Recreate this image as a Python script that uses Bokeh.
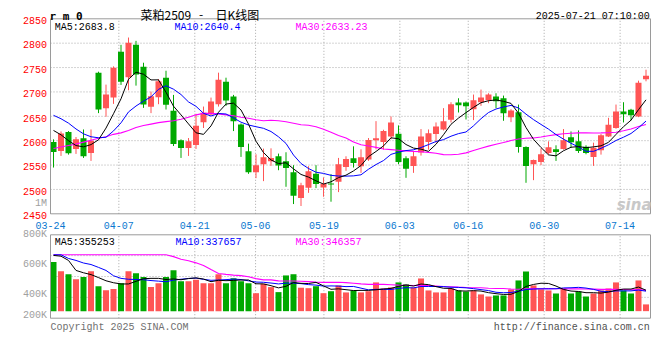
import numpy as np
from bokeh.plotting import figure
from bokeh.models import Range1d, Label
from bokeh.embed import file_html
from bokeh.resources import INLINE

# ---------------- data ----------------
tick_idx = [0, 9, 19, 27, 36, 46, 55, 65, 75]
tick_labels = ["03-24", "04-07", "04-21", "05-06", "05-19", "06-03", "06-16", "06-30", "07-14"]
price_ticks = [2450, 2500, 2550, 2600, 2650, 2700, 2750, 2800, 2850]
vol_ticks = [1000000, 800000, 600000, 400000, 200000]
vol_tick_labels = ["1M", "800K", "600K", "400K", "200K"]

opens = [2597.3, 2578.9, 2617.7, 2583.0, 2604.8, 2574.8, 2739.5, 2666.7, 2688.4, 2782.3,
         2730.0, 2796.6, 2751.7, 2669.4, 2689.1, 2729.2, 2661.2, 2600.7, 2585.0, 2591.1,
         2638.0, 2653.7, 2674.8, 2721.1, 2690.5, 2633.3, 2578.2, 2535.4, 2551.7, 2557.8,
         2568.0, 2557.8, 2535.4, 2482.3, 2503.4, 2532.0, 2504.0, 2512.2, 2515.6, 2546.2,
         2563.9, 2547.6, 2561.2, 2600.7, 2597.3, 2608.8, 2614.3, 2563.9, 2548.3, 2575.5,
         2597.3, 2613.6, 2623.0, 2642.9, 2678.2, 2678.2, 2664.6, 2678.9, 2683.0, 2690.5,
         2687.0, 2648.3, 2658.5, 2587.0, 2551.7, 2556.5, 2574.8, 2582.3, 2583.0, 2606.8,
         2598.6, 2587.7, 2566.7, 2580.3, 2608.8, 2625.8, 2659.9, 2663.3, 2649.7, 2725.8]
highs = [2602.7, 2619.0, 2619.7, 2607.5, 2623.0, 2623.0, 2741.5, 2715.0, 2752.4, 2796.6,
         2811.6, 2804.8, 2759.9, 2700.7, 2726.5, 2743.5, 2693.9, 2602.7, 2605.4, 2655.1,
         2670.0, 2688.4, 2739.5, 2729.2, 2693.9, 2635.4, 2593.9, 2572.1, 2583.7, 2584.3,
         2573.5, 2576.2, 2549.7, 2513.6, 2547.6, 2549.7, 2524.5, 2531.3, 2564.6, 2568.0,
         2588.4, 2582.3, 2605.4, 2640.1, 2622.4, 2649.7, 2631.3, 2568.0, 2578.9, 2623.8,
         2623.0, 2637.4, 2666.7, 2678.9, 2687.0, 2680.3, 2694.6, 2704.8, 2697.3, 2697.3,
         2692.5, 2664.6, 2674.1, 2588.4, 2561.2, 2584.3, 2598.6, 2590.5, 2623.8, 2619.0,
         2621.0, 2590.5, 2595.9, 2613.6, 2646.9, 2674.1, 2678.9, 2665.3, 2723.1, 2745.6]
lows = [2544.9, 2568.7, 2571.4, 2572.8, 2564.6, 2558.5, 2656.5, 2649.0, 2675.5, 2714.3,
        2703.4, 2712.9, 2667.3, 2656.5, 2674.8, 2663.9, 2589.0, 2564.6, 2568.7, 2583.0,
        2626.0, 2651.7, 2670.0, 2671.4, 2619.7, 2566.7, 2532.0, 2523.1, 2517.0, 2548.3,
        2539.4, 2505.4, 2470.0, 2466.0, 2493.0, 2502.7, 2485.0, 2474.8, 2494.5, 2538.1,
        2544.9, 2534.0, 2558.5, 2582.3, 2581.6, 2602.7, 2551.7, 2523.8, 2534.0, 2569.4,
        2581.6, 2595.9, 2621.0, 2637.4, 2657.8, 2643.5, 2642.2, 2671.4, 2676.9, 2666.7,
        2640.8, 2638.0, 2575.5, 2513.6, 2519.0, 2549.7, 2571.4, 2558.5, 2581.6, 2585.7,
        2574.8, 2572.1, 2548.3, 2571.4, 2607.5, 2624.5, 2637.4, 2641.5, 2648.3, 2721.8]
closes = [2576.9, 2614.9, 2574.1, 2602.7, 2568.0, 2600.0, 2663.9, 2694.6, 2749.7, 2721.1,
          2800.7, 2736.0, 2674.1, 2691.2, 2721.8, 2673.5, 2593.2, 2585.0, 2598.6, 2630.6,
          2657.1, 2680.3, 2725.2, 2682.3, 2640.1, 2587.0, 2535.4, 2549.7, 2566.0, 2564.6,
          2549.0, 2544.2, 2487.0, 2508.8, 2537.4, 2510.9, 2510.9, 2510.2, 2551.7, 2562.6,
          2554.4, 2566.0, 2601.4, 2604.8, 2619.7, 2637.4, 2556.5, 2542.2, 2568.0, 2608.8,
          2615.0, 2629.2, 2640.1, 2674.8, 2672.8, 2670.7, 2683.0, 2688.4, 2694.6, 2681.0,
          2656.5, 2661.9, 2587.0, 2548.3, 2560.5, 2572.1, 2586.4, 2576.9, 2600.7, 2596.6,
          2578.9, 2574.8, 2585.7, 2610.9, 2632.6, 2659.9, 2654.4, 2652.4, 2719.0, 2733.3]
volumes = [587000, 527000, 507000, 474000, 488000, 527000, 428000, 402000, 409000, 448000,
           527000, 514000, 488000, 422000, 448000, 488000, 534000, 461000, 461000, 471000,
           448000, 448000, 507000, 448000, 481000, 461000, 448000, 382000, 444000, 422000,
           389000, 499000, 507000, 418000, 415000, 428000, 382000, 395000, 433000, 387000,
           400000, 387000, 395000, 453000, 413000, 420000, 453000, 440000, 420000, 479000,
           400000, 387000, 387000, 413000, 400000, 393000, 400000, 374000, 360000, 367000,
           367000, 407000, 466000, 525000, 433000, 407000, 400000, 380000, 413000, 380000,
           393000, 360000, 380000, 400000, 413000, 453000, 400000, 380000, 466000, 308000]

# moving-average values at the left edge (they depend on days before the window)
ma5_head = [2621.0, 2612.0, 2600.0, 2590.0]
ma10_head = [2652.0, 2645.0, 2636.0, 2624.0, 2614.0, 2608.0, 2606.0, 2607.0, 2620.0]
ma30_head = [2584.0, 2587.0, 2590.0, 2593.0, 2597.0, 2601.0, 2605.0, 2608.0, 2613.0, 2616.0,
             2621.0, 2627.0, 2631.0, 2634.0, 2637.0, 2639.0, 2641.0, 2644.0, 2648.0, 2653.0,
             2656.0, 2656.0, 2655.0, 2653.0, 2651.0, 2648.0, 2646.0, 2643.0, 2641.0]
vma5_head = [631000, 626000, 598000, 532000]
vma10_head = [635000, 635000, 611000, 598000, 581000, 571000, 552000, 532000, 497000]
vma30_head = [635000] * 16 + [623000, 606000, 596000, 582000, 565000, 538000, 512000,
                              506000, 501000, 498000, 490000, 478000, 470000]

ma_texts = ["MA5:2683.8", "MA10:2640.4", "MA30:2633.23"]
vma_texts = ["MA5:355253", "MA10:337657", "MA30:346357"]


def moving(values, head, n):
    vals = np.asarray(values, dtype=float)
    out = list(head)
    for i in range(len(head), len(vals)):
        out.append(vals[i - n + 1:i + 1].mean())
    return out


# ---------------- layout constants (pixels) ----------------
W, H = 660, 360
PL, PR = 50, 650                 # left / right edge of both panels
P_TOP, P_BOT = 18.3, 213.3       # price panel
V_TOP, V_BOT = 234.3, 317.7      # volume panel
VOL_HI, VOL_LO, VOL_BASE = 767000, 217000, 263500

N = len(closes)
PX = (PR - PL) / N               # candle pitch
LX = (PR - PL) / (N - 1)         # date-grid pitch
pmin, pmax = price_ticks[0], price_ticks[-1]
ps = (P_BOT - P_TOP) / (pmax - pmin)
vs = (V_BOT - V_TOP) / (VOL_HI - VOL_LO)

xs = np.arange(N) + 0.4
o = np.array(opens); c = np.array(closes)
UP, DOWN = "#ff5555", "#00a800"
colors = [UP if cc >= oo else DOWN for oo, cc in zip(o, c)]

MONO = "Liberation Mono"
GRID_C = "#a8a8a8"
BORDER_C = "#9a9a9a"
DASH = "1 2"

p = figure(width=W, height=H,
           x_range=Range1d(-PL / PX, (W - PL) / PX),
           y_range=Range1d(pmin - (H - P_BOT) / ps, pmax + P_TOP / ps),
           x_axis_type=None, y_axis_type=None, min_border=0,
           output_backend="svg", toolbar_location=None)
p.extra_x_ranges = {"lab": Range1d(-PL / LX, (W - PL) / LX)}
p.extra_y_ranges = {"vol": Range1d(VOL_LO - (H - V_BOT) / vs, VOL_HI + V_TOP / vs)}
p.outline_line_color = None
p.background_fill_color = "white"
p.border_fill_color = "white"

# ---- grids ----
p.segment(x0=0, x1=N, y0=price_ticks[1:-1], y1=price_ticks[1:-1],
          line_color=GRID_C, line_dash=DASH, line_width=1)
p.segment(x0=tick_idx, x1=tick_idx, y0=pmin, y1=pmax, x_range_name="lab",
          line_color=GRID_C, line_dash=DASH, line_width=1)
quart = [VOL_LO + (VOL_HI - VOL_LO) * k / 4 for k in (1, 2, 3)]
p.segment(x0=0, x1=N, y0=quart, y1=quart, y_range_name="vol",
          line_color=GRID_C, line_dash=DASH, line_width=1)
p.segment(x0=tick_idx, x1=tick_idx, y0=VOL_LO, y1=VOL_HI, x_range_name="lab", y_range_name="vol",
          line_color=GRID_C, line_dash=DASH, line_width=1)

# ---- candles ----
p.segment(x0=xs, y0=lows, x1=xs, y1=highs, line_color=colors, line_width=1)
p.vbar(x=xs, width=0.8, top=np.maximum(o, c), bottom=np.minimum(o, c),
       fill_color=colors, line_color=None)

ma5 = moving(closes, ma5_head, 5)
ma10 = moving(closes, ma10_head, 10)
ma30 = moving(closes, ma30_head, 30)
p.line(xs, ma30, line_color="#ff00ff", line_width=1.1)
p.line(xs, ma10, line_color="#0000ff", line_width=1)
p.line(xs, ma5, line_color="#000000", line_width=1)

# ---- volume ----
p.vbar(x=xs, width=0.8, top=volumes, bottom=VOL_BASE, y_range_name="vol",
       fill_color=colors, line_color=None)
vma5 = moving(volumes, vma5_head, 5)
vma10 = moving(volumes, vma10_head, 10)
vma30 = moving(volumes, vma30_head, 30)
p.line(xs, vma30, line_color="#ff00ff", line_width=1.1, y_range_name="vol")
p.line(xs, vma10, line_color="#0000ff", line_width=1, y_range_name="vol")
p.line(xs, vma5, line_color="#000000", line_width=1, y_range_name="vol")

# ---- panel borders ----
p.quad(left=0, right=N, bottom=pmin, top=pmax, fill_color=None, line_color=BORDER_C, line_width=1)
p.quad(left=0, right=N, bottom=VOL_LO, top=VOL_HI, fill_color=None, line_color=BORDER_C,
       line_width=1, y_range_name="vol")


def lab(text, x, y, dx=0.0, dy=0.0, color="#000000", font=MONO, size="10px", align="left",
        style="normal", xr="default", yr="default"):
    p.add_layout(Label(x=x, y=y, x_offset=dx, y_offset=dy, text=text, text_color=color,
                       text_font=font, text_font_size=size, text_align=align,
                       text_font_style=style, text_baseline="alphabetic",
                       x_range_name=xr, y_range_name=yr))


# price tick labels (left), date labels (below)
for v in price_ticks:
    lab(str(v), 0, v, dx=-3.5, dy=-1.7, color="#ff0000", align="right")
for i, t in zip(tick_idx, tick_labels):
    lab(t, i, pmin, dy=-11.7, color="#0a78d0", align="center", xr="lab")
# volume tick labels (clamped to the bar base at the bottom)
for v, t in zip(vol_ticks, vol_tick_labels):
    lab(t, 0, max(v, VOL_BASE), dx=-3.5, dy=-4.3, color="#a0a0a0", align="right", yr="vol")

# legends
for txt, dx, col in zip(ma_texts, [4.3, 124, 245], ["#000000", "#0000ff", "#ff00ff"]):
    lab(txt, 0, pmax, dx=dx, dy=-9.0, color=col)
for txt, dx, col in zip(vma_texts, [4.3, 125, 245], ["#000000", "#0000ff", "#ff00ff"]):
    lab(txt, 0, VOL_HI, dx=dx, dy=-7.4, color=col, yr="vol")

# header
lab("r m 0", 0, pmax, dx=-1, dy=2.6, font="DejaVu Sans Mono", size="11px", style="bold")
lab("菜粕2509", 0, pmax, dx=90, dy=4.0, font="Noto Sans CJK SC", size="12px")
lab("-", 0, pmax, dx=148.5, dy=4.0, font="Noto Sans CJK SC", size="12px")
lab("日K线图", 0, pmax, dx=165, dy=4.0, font="Noto Sans CJK SC", size="12px")
lab("2025-07-21 07:10:00", N, pmax, dx=-0.7, dy=2.6, align="right")

# footer + watermark
lab("Copyright 2025 SINA.COM", 0, VOL_LO, dy=-9.6, color="#707070", yr="vol")
lab("http://finance.sina.com.cn", N, VOL_LO, dx=-0.7, dy=-9.6, color="#505050", align="right", yr="vol")
lab("sina", N, pmin, dx=1, dy=9.3, color="#c8c8c8", font="DejaVu Sans", size="15px",
    style="bold italic", align="right")

open("out.html", "w").write(file_html(p, INLINE))
